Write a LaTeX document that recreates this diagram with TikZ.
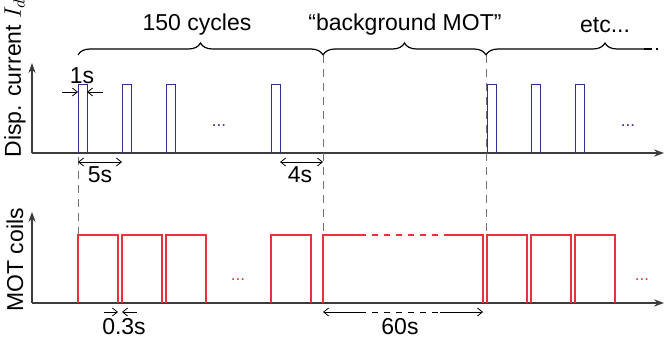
\documentclass[tikz,border=0pt]{standalone}
\usepackage{fontspec}
\setmainfont{Liberation Sans}
\usetikzlibrary{arrows.meta, decorations.pathreplacing}

\definecolor{pulseblue}{RGB}{45,45,150}
\definecolor{coilred}{RGB}{235,50,60}
\definecolor{axisgray}{RGB}{60,60,60}

\begin{document}
\begin{tikzpicture}[x=0.5pt, y=-0.5pt, font=\fontsize{11.5}{13}\selectfont,
    axis/.style={draw=axisgray, line width=0.6pt, -{Stealth[length=5pt, width=3.6pt]}},
    guide/.style={draw=black!55, line width=0.4pt, dash pattern=on 4pt off 3pt},
    barb/.style={line width=0.4pt, -{Straight Barb[length=2.5pt, width=4pt]}},
    dim/.style={line width=0.4pt, {Straight Barb[length=2.5pt, width=4pt]}-{Straight Barb[length=2.5pt, width=4pt]}},
    pulse/.style={draw=pulseblue, line width=0.5pt},
    coil/.style={draw=coilred, line width=0.6pt},
    curly/.style={decorate, decoration={brace, amplitude=6pt}, line width=0.6pt},
    more/.style={font=\fontsize{8.5}{9}\selectfont, anchor=base}]

  \useasboundingbox (0,0) rectangle (665,342);

  % axes
  \coordinate (o1) at (32,153);
  \coordinate (o2) at (32,303);
  \draw[axis] (o1) -- (32,63);
  \draw[axis] (o1) -- (664,153);
  \draw[axis] (o2) -- (32,212);
  \draw[axis] (o2) -- (664,303);
  \node[rotate=90] (ylabtop) at (15,78) {Disp. current $I_d$};
  \node[rotate=90] (ylabbot) at (15,260) {MOT coils};

  % guides
  \draw[guide] (78,157) -- (78,235);
  \draw[guide] (323,55) -- (323,235);
  \draw[guide] (486,55) -- (486,235);

  % braces
  \draw[curly] (78,55) -- (323,55);
  \draw[curly] (323,55) -- (486,55);
  \begin{scope}
    \clip (480,0) rectangle (644,100);
    \draw[curly] (486,55) -- (724,55);
  \end{scope}
  \draw[line width=0.6pt, dash pattern=on 4pt off 2pt] (644,49) -- (658,49);
  \node (cycles) at (197,25) {150 cycles};
  \node (bgmot) at (405,25) {``background MOT''};
  \node (etc) at (605,25) {etc...};

  % pulses
  \foreach \x in {78,122,166,271,487,531,575} {
    \draw[pulse] (\x,153) -- (\x,85) -- (\x+9,85) -- (\x+9,153);
    \draw[coil] (\x,303) -- (\x,235) -- (\x+40,235) -- (\x+40,303);
  }
  \draw[coil] (323,303) -- (323,235) -- (360,235);
  \draw[coil, dashed] (360,235) -- (445,235);
  \draw[coil] (445,235) -- (483,235) -- (483,303);
  \node[more, text=pulseblue] (dotsa) at (219,127) {...};
  \node[more, text=pulseblue] (dotsb) at (628,127) {...};
  \node[more, text=coilred] (dotsc) at (238,280) {...};
  \node[more, text=coilred] (dotsd) at (642,280) {...};

  % durations
  \draw[barb] (62,92) -- (78,92);
  \draw[barb] (103,92) -- (87,92);
  \node (one) at (82,76) {1s};
  \draw[dim] (78,162) -- (122,162);
  \node (five) at (100,175) {5s};
  \draw[dim] (280,162) -- (323,162);
  \node (four) at (300,175) {4s};
  \draw[barb] (104,312) -- (118,312);
  \draw[barb] (137,312) -- (122,312);
  \node (short) at (124,327) {0.3s};
  \draw[barb] (360,312) -- (323,312);
  \draw[line width=0.4pt, dashed] (360,312) -- (440,312);
  \draw[barb] (440,312) -- (483,312);
  \node (sixty) at (400,327) {60s};
\end{tikzpicture}
\end{document}
